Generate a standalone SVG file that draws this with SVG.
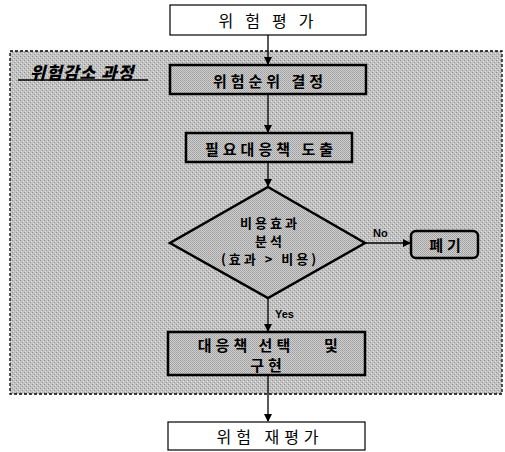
<svg xmlns="http://www.w3.org/2000/svg" width="505" height="452" viewBox="0 0 505 452">
<defs>
<style>
.plain{fill:#fff;stroke:#000;stroke-width:1.2}
.inner{fill:url(#tex2);stroke:#000;stroke-width:2.5}
.t{font-family:"Noto Sans CJK KR","Noto Sans",sans-serif;font-size:16px;fill:#000;text-anchor:middle;dominant-baseline:central}
.b{font-family:"Noto Sans CJK KR","Noto Sans",sans-serif;font-size:15px;font-weight:bold;fill:#000;text-anchor:middle;dominant-baseline:central;letter-spacing:4px}
.d{font-family:"Noto Sans CJK KR","Noto Sans",sans-serif;font-size:13px;font-weight:bold;fill:#000;text-anchor:middle;dominant-baseline:central;letter-spacing:3px}
.lbl{font-family:"Liberation Sans",Arial,sans-serif;font-size:11px;font-weight:bold;fill:#000}
.c{stroke:#000;stroke-width:1.3;fill:none;marker-end:url(#ah)}
</style>
<marker id="ah" markerWidth="8" markerHeight="8" refX="7" refY="4" orient="auto" markerUnits="userSpaceOnUse">
<path d="M0,0 L8,4 L0,8 z" fill="#000"/>
</marker>
<pattern id="tex" width="4" height="4" patternUnits="userSpaceOnUse">
<rect width="4" height="4" fill="#c2c2c2"/>
<rect x="0" y="0" width="1" height="1" fill="#8e8e8e"/>
<rect x="2" y="2" width="1" height="1" fill="#9a9a9a"/>
<rect x="3" y="1" width="1" height="1" fill="#e4e4e4"/>
<rect x="1" y="3" width="1" height="1" fill="#e0e0e0"/>
</pattern>
<pattern id="tex2" width="2" height="2" patternUnits="userSpaceOnUse">
<rect width="2" height="2" fill="#d0d0d0"/>
<rect x="0" y="0" width="1" height="1" fill="#9c9c9c"/>
<rect x="1" y="1" width="1" height="1" fill="#a8a8a8"/>
</pattern>
</defs>
<rect id="region" x="10" y="51" width="492" height="343" fill="url(#tex)" stroke="#000" stroke-width="1.3" stroke-dasharray="3,2"/>
<g id="title">
<text x="82" y="71" font-family="'Noto Sans CJK KR',sans-serif" font-size="17" font-weight="900" font-style="italic" letter-spacing="1" text-anchor="middle" dominant-baseline="central" fill="#000">위험감소 과정</text>
<line x1="18" y1="80" x2="148" y2="80" stroke="#000" stroke-width="1.5"/>
</g>
<g id="connectors">
<line class="c" x1="268" y1="35" x2="268" y2="64"/>
<line class="c" x1="268" y1="94" x2="268" y2="132"/>
<line class="c" x1="268" y1="162" x2="268" y2="186"/>
<line class="c" x1="268" y1="298" x2="268" y2="331"/>
<line class="c" x1="365" y1="243" x2="410" y2="243"/>
<line class="c" x1="268" y1="375" x2="268" y2="421"/>
<text class="lbl" x="373" y="237">No</text>
<text class="lbl" x="275" y="318">Yes</text>
</g>
<g id="n1">
<rect class="plain" x="170" y="5" width="196" height="30"/>
<text class="t" x="272" y="20" letter-spacing="12">위험평가</text>
</g>
<g id="n2">
<rect class="inner" x="170" y="65" width="196" height="29"/>
<text class="b" x="270" y="80">위험순위 결정</text>
</g>
<g id="n3">
<rect class="inner" x="186" y="133" width="166" height="29"/>
<text class="b" x="271" y="148">필요대응책 도출</text>
</g>
<g id="n4">
<polygon points="268,187 365,243 268,298 170,243" fill="url(#tex2)" stroke="#000" stroke-width="2.5"/>
<text class="d" x="270" y="222">비용효과</text>
<text class="d" x="270" y="240">분석</text>
<text class="d" x="270" y="258">(효과 &gt; 비용)</text>
</g>
<g id="n5">
<rect class="inner" x="411" y="231" width="67" height="27" rx="5"/>
<text class="b" x="447" y="244" letter-spacing="8">폐기</text>
</g>
<g id="n6">
<rect class="inner" x="168" y="332" width="197" height="43"/>
<text class="b" x="246" y="344" font-size="14">대응책 선택</text>
<text class="b" x="333" y="344" font-size="14">및</text>
<text class="b" x="268" y="364" font-size="14">구현</text>
</g>
<g id="n7">
<rect class="plain" x="168" y="422" width="197" height="28"/>
<text class="t" x="270" y="436" letter-spacing="5">위험 재평가</text>
</g>
</svg>
